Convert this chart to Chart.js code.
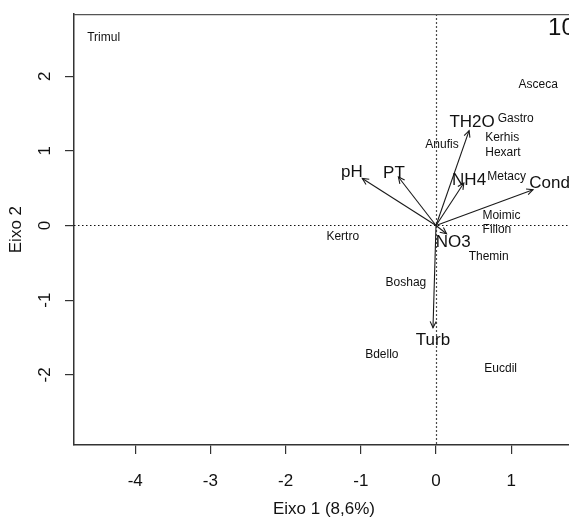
<!DOCTYPE html>
<html>
<head>
<meta charset="utf-8">
<script src="https://cdn.jsdelivr.net/npm/chart.js@4.4.1/dist/chart.umd.min.js"></script>
<style>
  html, body { margin: 0; padding: 0; background: #fff; overflow: hidden; }
  #wrap { width: 600px; height: 522px; }
</style>
</head>
<body>
<div id="wrap"><canvas id="rda" width="600" height="522"></canvas></div>
<script>
const FONT = "'Liberation Sans', Arial, Helvetica, sans-serif";

// ─── Data ─────────────────────────────────────────────────
const xTicks = [-4, -3, -2, -1, 0, 1];
const yTicks = [-2, -1, 0, 1, 2];

// environmental vectors (arrow tips) and where their names sit
const envVars   = ['pH', 'PT', 'TH2O', 'NH4', 'Cond', 'NO3', 'Turb'];
const envX      = [-0.98, -0.50, 0.44, 0.37, 1.29, 0.14, -0.04];
const envY      = [0.63, 0.65, 1.27, 0.57, 0.48, -0.11, -1.37];
const envLabelX = [-1.12, -0.56, 0.48, 0.44, 1.51, 0.23, -0.04];
const envLabelY = [0.71, 0.70, 1.38, 0.61, 0.56, -0.22, -1.54];

// species scores
const species = ['Trimul', 'Asceca', 'Gastro', 'Kerhis', 'Hexart', 'Anufis', 'Metacy',
                 'Moimic', 'Fillon', 'Themin', 'Kertro', 'Boshag', 'Bdello', 'Eucdil'];
const spX = [-4.42, 1.36, 1.06, 0.88, 0.89, 0.08, 0.94, 0.87, 0.81, 0.70, -1.24, -0.40, -0.72, 0.86];
const spY = [2.51, 1.89, 1.43, 1.17, 0.97, 1.08, 0.65, 0.13, -0.06, -0.42, -0.15, -0.77, -1.73, -1.92];

// corner label, partly cut off at the right edge
const cornerText = '10';
const cornerX = 1.49;
const cornerY = 2.64;

// ─── Datasets ─────────────────────────────────────────────
const arrowSets = envVars.map((name, i) => ({
  label: name,
  type: 'line',
  data: [{ x: 0, y: 0 }, { x: envX[i], y: envY[i] }],
  borderColor: '#1a1a1a',
  borderWidth: 1.1,
  pointRadius: 0,
  fill: false,
  arrow: true,
}));

const speciesSet = {
  label: 'species',
  data: species.map((s, i) => ({ x: spX[i], y: spY[i] })),
  pointRadius: 0,
  names: species,
  textFont: '12px ' + FONT,
};

const envLabelSet = {
  label: 'envLabels',
  data: envVars.map((s, i) => ({ x: envLabelX[i], y: envLabelY[i] })),
  pointRadius: 0,
  names: envVars,
  textFont: '17px ' + FONT,
};

// ─── Plugins ──────────────────────────────────────────────
const biplotPlugin = {
  id: 'biplot',
  beforeDatasetsDraw(chart) {
    const { ctx, chartArea: a, scales: { x, y } } = chart;
    ctx.save();
    ctx.strokeStyle = '#111';
    ctx.lineWidth = 1.2;
    ctx.setLineDash([1.5, 2.5]);
    const x0 = Math.round(x.getPixelForValue(0)) + 0.5;
    const y0 = Math.round(y.getPixelForValue(0)) + 0.5;
    ctx.beginPath();
    ctx.moveTo(a.left, y0); ctx.lineTo(a.right, y0);
    ctx.moveTo(x0, a.top); ctx.lineTo(x0, a.bottom);
    ctx.stroke();
    ctx.restore();
  },
  afterDatasetsDraw(chart) {
    const { ctx, chartArea: a, scales: { x, y } } = chart;

    // arrow heads
    ctx.save();
    ctx.strokeStyle = '#1a1a1a';
    ctx.lineWidth = 1.1;
    chart.data.datasets.forEach((ds, di) => {
      if (!ds.arrow) return;
      const pts = chart.getDatasetMeta(di).data;
      const p0 = pts[0], p1 = pts[1];
      const ang = Math.atan2(p1.y - p0.y, p1.x - p0.x);
      const len = 7;
      ctx.beginPath();
      ctx.moveTo(p1.x - len * Math.cos(ang - 0.45), p1.y - len * Math.sin(ang - 0.45));
      ctx.lineTo(p1.x, p1.y);
      ctx.lineTo(p1.x - len * Math.cos(ang + 0.45), p1.y - len * Math.sin(ang + 0.45));
      ctx.stroke();
    });
    ctx.restore();

    // text labels, clipped to the plot region like R
    ctx.save();
    ctx.beginPath();
    ctx.rect(a.left, a.top, a.right - a.left, a.bottom - a.top);
    ctx.clip();
    ctx.textAlign = 'center';
    ctx.textBaseline = 'middle';
    chart.data.datasets.forEach((ds, di) => {
      if (!ds.names) return;
      ctx.font = ds.textFont;
      ctx.fillStyle = '#111';
      chart.getDatasetMeta(di).data.forEach((pt, i) => {
        ctx.fillText(ds.names[i], pt.x, pt.y);
      });
    });
    ctx.font = '24px ' + FONT;
    ctx.textAlign = 'left';
    ctx.fillText(cornerText, x.getPixelForValue(cornerX), y.getPixelForValue(cornerY));
    ctx.restore();
  },
  afterDraw(chart) {
    const { ctx, chartArea: a, scales: { y } } = chart;
    // top and right sides of the box
    ctx.save();
    ctx.strokeStyle = '#555';
    ctx.lineWidth = 1.3;
    ctx.beginPath();
    ctx.moveTo(a.left, a.top + 0.5);
    ctx.lineTo(a.right + 0.5, a.top + 0.5);
    ctx.lineTo(a.right + 0.5, a.bottom);
    ctx.stroke();

    // y tick labels, rotated parallel to the axis
    ctx.fillStyle = '#111';
    ctx.font = '17px ' + FONT;
    ctx.textAlign = 'center';
    ctx.textBaseline = 'middle';
    yTicks.forEach(v => {
      ctx.save();
      ctx.translate(45, y.getPixelForValue(v));
      ctx.rotate(-Math.PI / 2);
      ctx.fillText(String(v), 0, 0);
      ctx.restore();
    });
    ctx.restore();
  },
};

// ─── Chart ────────────────────────────────────────────────
new Chart(document.getElementById('rda'), {
  type: 'scatter',
  data: { datasets: [...arrowSets, speciesSet, envLabelSet] },
  plugins: [biplotPlugin],
  options: {
    responsive: false,
    animation: false,
    layout: { padding: { top: 10, right: 26, left: 0, bottom: 0 } },
    plugins: { legend: { display: false }, tooltip: { enabled: false } },
    scales: {
      x: {
        type: 'linear',
        min: -4.814,
        max: 1.835,
        afterBuildTicks: s => { s.ticks = xTicks.map(v => ({ value: v })); },
        afterFit: s => { s.height = 77; },
        grid: { drawOnChartArea: false, drawTicks: true, tickLength: 9, color: '#333', lineWidth: 1.2 },
        border: { display: true, color: '#333', width: 1.5 },
        ticks: {
          font: { family: FONT, size: 17 },
          color: '#111',
          padding: 17.5,
          maxRotation: 0,
          callback: v => String(v),
        },
        title: {
          display: true,
          text: 'Eixo 1 (8,6%)',
          font: { family: FONT, size: 17 },
          color: '#111',
          padding: { top: 0, bottom: 2 },
        },
      },
      y: {
        type: 'linear',
        min: -2.94,
        max: 2.83,
        afterBuildTicks: s => { s.ticks = yTicks.map(v => ({ value: v })); },
        afterFit: s => { s.width = 74; },
        grid: { drawOnChartArea: false, drawTicks: true, tickLength: 9, color: '#333', lineWidth: 1.2 },
        border: { display: true, color: '#333', width: 1.5 },
        ticks: {
          font: { family: FONT, size: 17 },
          color: 'rgba(0,0,0,0)',
          padding: 4,
        },
        title: {
          display: true,
          text: 'Eixo 2',
          font: { family: FONT, size: 17 },
          color: '#111',
          padding: { top: 6.5, bottom: 0 },
        },
      },
    },
  },
});
</script>
</body>
</html>
